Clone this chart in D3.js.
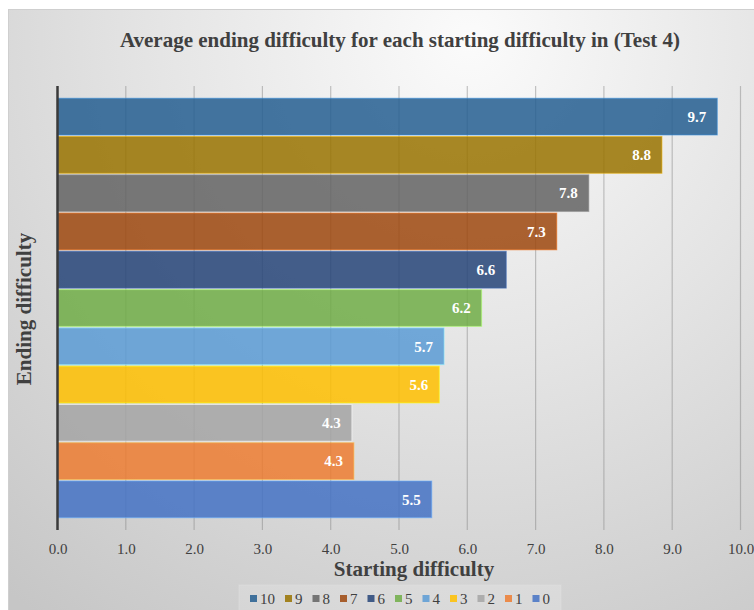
<!DOCTYPE html>
<html>
<head>
<meta charset="utf-8">
<script src="https://cdn.jsdelivr.net/npm/d3@7"></script>
<style>
  html, body { margin: 0; padding: 0; background: #ffffff; }
  svg { display: block; }
  text { font-family: "Liberation Serif", "Times New Roman", serif; }
</style>
</head>
<body>
<svg id="chart" width="754" height="610"></svg>
<script>
// Starting difficulty levels, top to bottom
const categories = ["10", "9", "8", "7", "6", "5", "4", "3", "2", "1", "0"];
// Average ending difficulty for each starting level
const values = [9.66, 8.85, 7.78, 7.31, 6.57, 6.21, 5.66, 5.59, 4.31, 4.34, 5.48];
// One colour per starting level
const colors = ["#255E91", "#997300", "#636363", "#9E480E", "#264478", "#70AD47",
                "#5B9BD5", "#FFC000", "#A5A5A5", "#ED7D31", "#4472C4"];
const xTicks = [0, 1, 2, 3, 4, 5, 6, 7, 8, 9, 10];

const title = "Average ending difficulty for each starting difficulty in (Test 4)";
const xTitle = "Starting difficulty";
const yTitle = "Ending difficulty";

const svg = d3.select("#chart");
const W = 754, H = 610;

// Chart area background
const defs = svg.append("defs");
const grad = defs.append("radialGradient")
  .attr("id", "bg")
  .attr("gradientUnits", "userSpaceOnUse")
  .attr("cx", 470).attr("cy", 40).attr("r", 720);
grad.append("stop").attr("offset", "0").attr("stop-color", "#fbfbfb");
grad.append("stop").attr("offset", "0.45").attr("stop-color", "#e4e4e4");
grad.append("stop").attr("offset", "1").attr("stop-color", "#c6c6c6");

svg.append("rect")
  .attr("x", 8.5).attr("y", 9.5)
  .attr("width", W - 8).attr("height", H - 9)
  .attr("fill", "url(#bg)")
  .attr("stroke", "#cfcfcf").attr("stroke-width", 1);

const plot = { left: 57.5, right: 740.5, top: 86, bottom: 530 };

const x = d3.scaleLinear().domain([0, 10]).range([plot.left, plot.right]);
const y = d3.scaleBand().domain(categories)
  .range([plot.top, plot.bottom])
  .paddingInner(0.04).paddingOuter(0.32);

// Vertical gridlines (they continue below the bars as tick marks)
svg.append("g")
  .selectAll("line")
  .data(xTicks.slice(1))
  .join("line")
  .attr("x1", d => x(d)).attr("x2", d => x(d))
  .attr("y1", plot.top).attr("y2", plot.bottom)
  .attr("stroke", "#808080").attr("stroke-opacity", 0.45).attr("stroke-width", 1.2);

// Bars
const rows = categories.map((c, i) => ({ cat: c, value: values[i], color: colors[i] }));
svg.append("g")
  .selectAll("rect")
  .data(rows)
  .join("rect")
  .attr("x", x(0))
  .attr("y", d => y(d.cat))
  .attr("width", d => x(d.value) - x(0))
  .attr("height", y.bandwidth())
  .attr("fill", d => d.color)
  .attr("fill-opacity", 0.85)
  .attr("stroke", d => d3.color(d.color).brighter(1.2))
  .attr("stroke-opacity", 0.6)
  .attr("stroke-width", 1);

// Value labels inside the bar ends
svg.append("g")
  .selectAll("text")
  .data(rows)
  .join("text")
  .attr("x", d => x(d.value) - 11)
  .attr("y", d => y(d.cat) + y.bandwidth() / 2)
  .attr("dy", "0.35em")
  .attr("text-anchor", "end")
  .attr("fill", "#ffffff")
  .attr("font-size", 15)
  .attr("font-weight", "bold")
  .text(d => d.value.toFixed(1));

// Category axis line
svg.append("line")
  .attr("x1", plot.left).attr("x2", plot.left)
  .attr("y1", plot.top).attr("y2", plot.bottom)
  .attr("stroke", "#3a3a3a").attr("stroke-width", 2.5);

// X axis tick labels
const xAxis = d3.axisBottom(x).tickValues(xTicks).tickFormat(d3.format(".1f")).tickSize(0).tickPadding(0);
const gx = svg.append("g")
  .attr("transform", `translate(0,${plot.bottom + 24})`)
  .call(xAxis);
gx.attr("font-family", null);
gx.select(".domain").remove();
gx.selectAll("text")
  .attr("font-size", 15)
  .attr("fill", "#404040")
  .attr("dy", 0)
  .attr("y", 0);

// Title
svg.append("text")
  .attr("x", 400).attr("y", 47)
  .attr("text-anchor", "middle")
  .attr("font-size", 21).attr("font-weight", "bold")
  .attr("fill", "#404040")
  .text(title);

// Axis titles
svg.append("text")
  .attr("x", 414).attr("y", 576)
  .attr("text-anchor", "middle")
  .attr("font-size", 21).attr("font-weight", "bold")
  .attr("fill", "#404040")
  .text(xTitle);

svg.append("text")
  .attr("transform", "translate(31,309) rotate(-90)")
  .attr("text-anchor", "middle")
  .attr("font-size", 21).attr("font-weight", "bold")
  .attr("fill", "#404040")
  .text(yTitle);

// Legend
const legend = svg.append("g");
const legendBox = legend.append("rect")
  .attr("fill", "#ffffff").attr("fill-opacity", 0.18)
  .attr("stroke", "#e0e0e0").attr("stroke-opacity", 0.6);
const items = legend.append("g");
let cursor = 0;
rows.forEach(d => {
  const g = items.append("g").attr("transform", `translate(${cursor},0)`);
  g.append("rect").attr("x", 0).attr("y", -4).attr("width", 7).attr("height", 7)
    .attr("fill", d.color).attr("fill-opacity", 0.85);
  const t = g.append("text").attr("x", 10).attr("y", 0).attr("dy", "0.35em")
    .attr("font-size", 15).attr("fill", "#404040").text(d.cat);
  cursor += 10 + t.node().getComputedTextLength() + 10;
});
const totalW = cursor - 10;
const legendLeft = 400 - totalW / 2;
items.attr("transform", `translate(${legendLeft},599)`);
legendBox
  .attr("x", legendLeft - 11).attr("y", 585)
  .attr("width", totalW + 22).attr("height", 30);
</script>
</body>
</html>
